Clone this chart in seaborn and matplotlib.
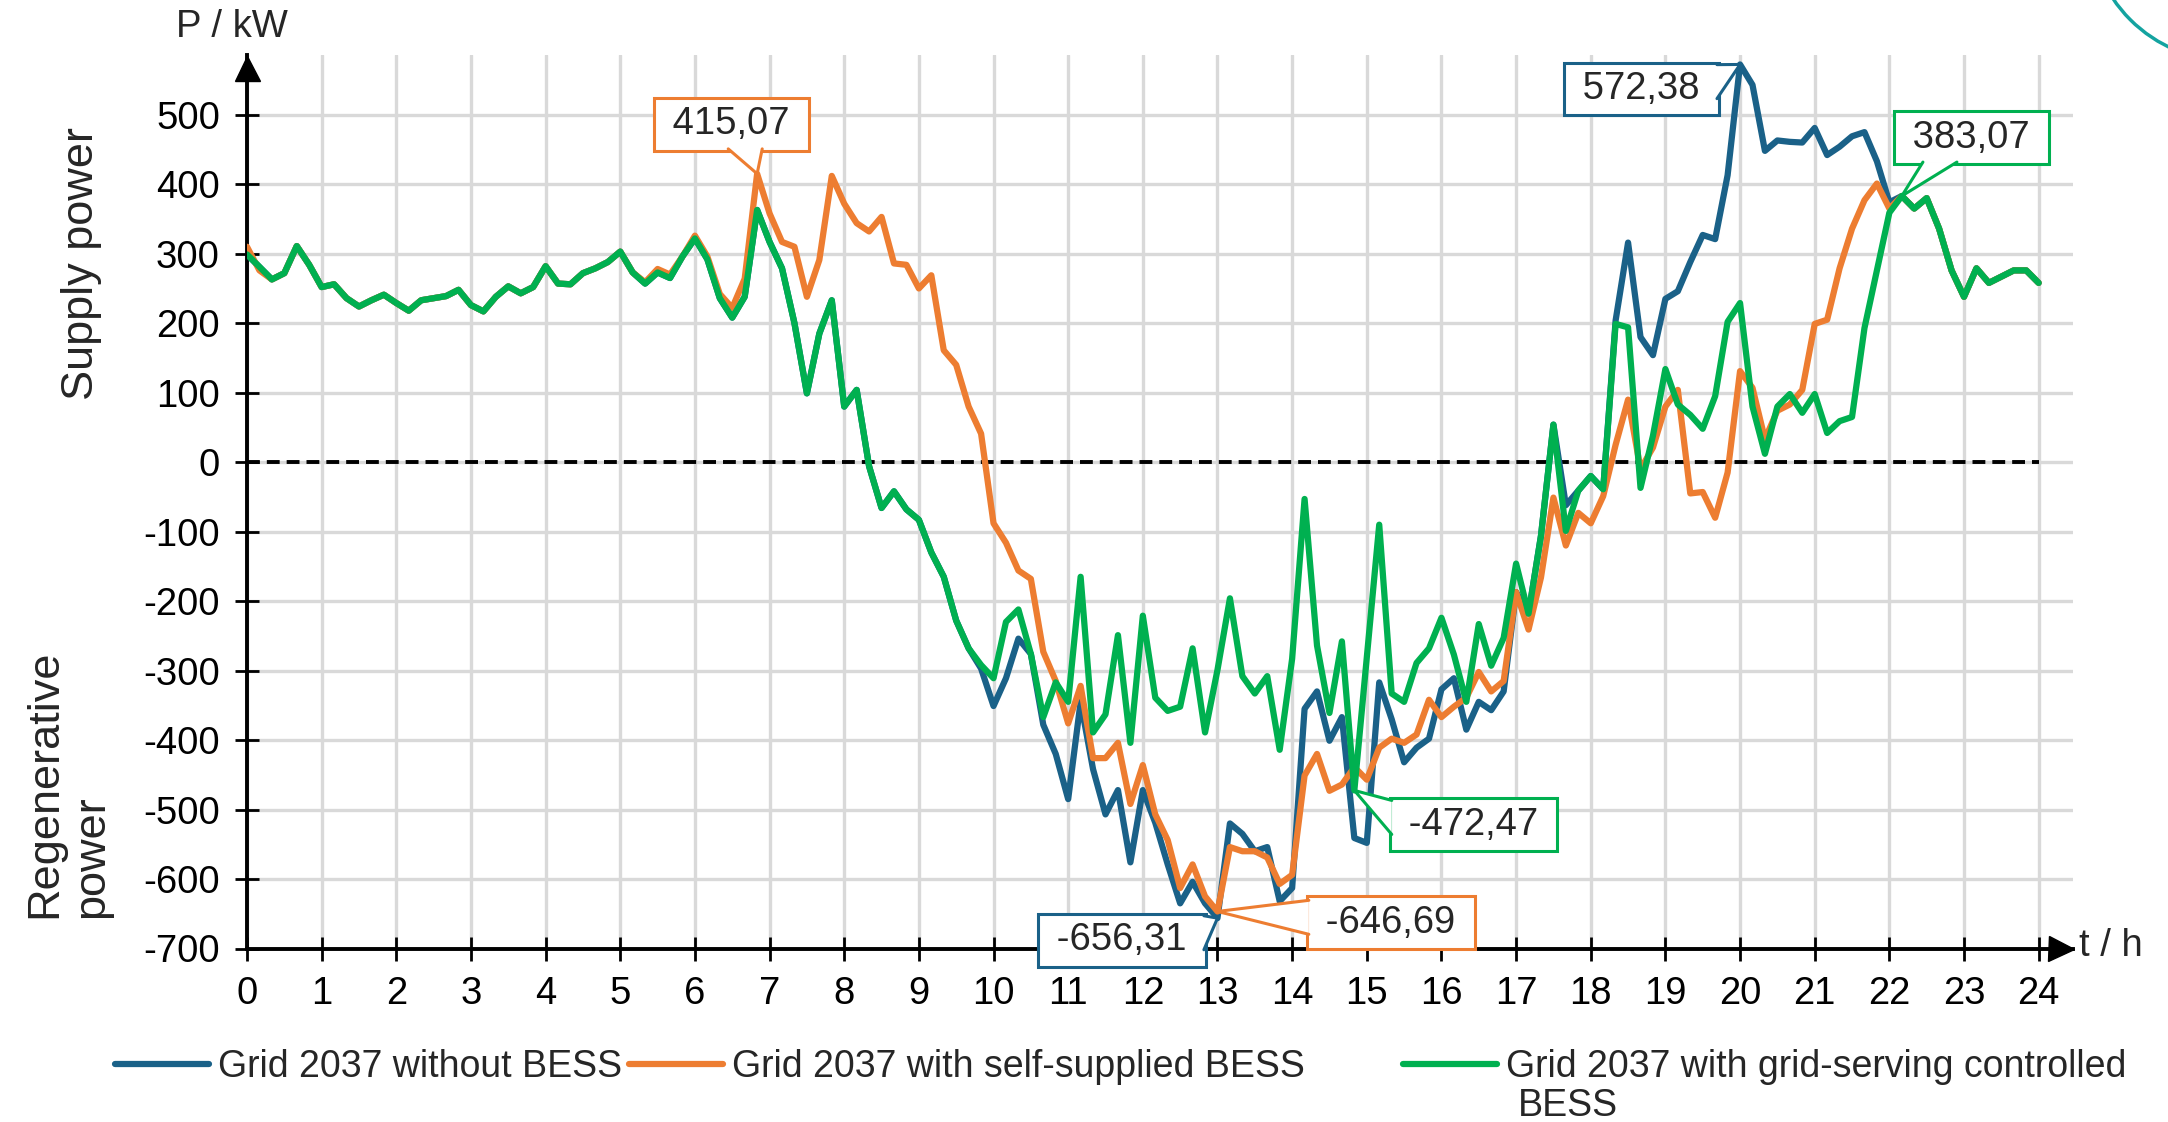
import numpy as np
import pandas as pd
import matplotlib
matplotlib.use('Agg')
import matplotlib.pyplot as plt
from matplotlib.lines import Line2D
from matplotlib.patches import Ellipse, Polygon
from matplotlib.transforms import IdentityTransform
import seaborn as sns

# 10-minute values over one day (0:00 ... 24:00), P in kW
hours = np.linspace(0, 24, 145)

without_bess = [
    299, 281, 263, 272, 311, 284, 252, 256, 236, 224, 233, 241,
    229, 218, 233, 236, 239, 248, 226, 217, 238, 253, 243, 252,
    282, 257, 256, 272, 279, 288, 303, 273, 257, 273, 265, 296,
    322, 292, 236, 208, 238, 363, 317, 279, 200, 99, 185, 233,
    80, 104, -6, -66, -42, -68, -83, -130, -165, -228, -268, -297,
    -351, -311, -254, -276, -378, -420, -485, -345, -442, -507, -472, -576,
    -472, -519, -579, -635, -604, -635, -656.31, -520, -535, -560, -554, -632,
    -613, -355, -330, -401, -367, -541, -548, -317, -370, -432, -411, -398,
    -327, -311, -385, -345, -357, -330, -187, -218, -106, 54, -62, -41,
    -20, -39, 204, 316, 180, 154, 235, 246, 288, 327, 321, 413,
    572.38, 543, 448, 463, 461, 460, 481, 442, 454, 469, 475, 433,
    374, 383.07, 365, 380, 336, 276, 238, 279, 258, 267, 276, 276,
    258]

self_supplied = [
    310, 276, 263, 272, 311, 284, 252, 256, 236, 224, 233, 241,
    229, 218, 233, 236, 239, 248, 226, 217, 238, 253, 243, 252,
    282, 257, 256, 272, 279, 288, 303, 273, 259, 278, 270, 296,
    326, 296, 242, 222, 264, 415.07, 358, 317, 310, 238, 291, 412,
    372, 344, 332, 353, 286, 284, 250, 269, 161, 140, 80, 41,
    -88, -116, -156, -168, -273, -315, -376, -322, -426, -426, -404, -492,
    -436, -507, -544, -613, -579, -625, -646.69, -554, -560, -560, -569, -607,
    -594, -451, -420, -473, -464, -439, -457, -411, -398, -404, -392, -342,
    -367, -352, -339, -302, -330, -315, -187, -241, -166, -51, -120, -73,
    -88, -49, 25, 90, -10, 21, 80, 104, -45, -43, -80, -15,
    131, 107, 33, 74, 83, 104, 199, 205, 279, 336, 377, 401,
    365, 383.07, 365, 380, 336, 276, 238, 279, 258, 267, 276, 276,
    258]

grid_serving = [
    299, 281, 263, 272, 311, 284, 252, 256, 236, 224, 233, 241,
    229, 218, 233, 236, 239, 248, 226, 217, 238, 253, 243, 252,
    282, 257, 256, 272, 279, 288, 303, 273, 257, 273, 265, 296,
    322, 292, 236, 208, 238, 363, 317, 279, 200, 99, 185, 233,
    80, 104, -6, -66, -42, -68, -83, -130, -165, -228, -268, -292,
    -311, -230, -212, -276, -367, -317, -345, -165, -389, -363, -249, -404,
    -221, -339, -358, -352, -268, -389, -299, -196, -308, -333, -308, -414,
    -283, -53, -264, -361, -258, -472.47, -281, -90, -333, -345, -289, -268,
    -224, -277, -345, -233, -293, -253, -146, -218, -106, 54, -99, -41,
    -20, -39, 199, 194, -37, 38, 134, 83, 68, 48, 95, 202,
    229, 80, 12, 80, 98, 71, 98, 42, 59, 65, 193, 276,
    359, 383.07, 365, 380, 336, 276, 238, 279, 258, 267, 276, 276,
    258]

labels = ['Grid 2037 without BESS', 'Grid 2037 with self-supplied BESS',
          'Grid 2037 with grid-serving controlled BESS']
colors = ['#1a6188', '#ed7d31', '#00b050']
y_ticks = list(range(-700, 501, 100))
x_ticks = list(range(0, 25))

df = pd.DataFrame({
    't': np.tile(hours, 3),
    'P': np.concatenate([without_bess, self_supplied, grid_serving]),
    'series': np.repeat(labels, len(hours)),
})

sns.set_theme(style='white')
plt.rcParams['font.family'] = ['Liberation Sans', 'DejaVu Sans']
plt.rcParams['axes.unicode_minus'] = False
FS = 27.5

fig = plt.figure(figsize=(21.68, 11.22), dpi=100)
ax = fig.add_axes([247 / 2168, 1 - 948.5 / 1122, (2073 - 247) / 2168, (948.5 - 55) / 1122])

sns.lineplot(data=df, x='t', y='P', hue='series', palette=dict(zip(labels, colors)),
             linewidth=4.5, estimator=None, sort=False, legend=False, ax=ax, zorder=3)

ax.hlines(0, 0, 24, colors='black', linestyles=(0, (3.3, 1.8)), linewidth=2.8, zorder=2)

ax.set_xlim(0, 24.46)
ax.set_ylim(-700, 586)
ax.set_xticks(x_ticks)
ax.set_yticks(y_ticks)
ax.set_xlabel('')
ax.set_ylabel('')
ax.set_axisbelow(True)
ax.grid(True, color='#d9d9d9', linewidth=2.4)
for s in ['top', 'right']:
    ax.spines[s].set_visible(False)
for s in ['left', 'bottom']:
    ax.spines[s].set_linewidth(2.8)
    ax.spines[s].set_color('black')
ax.tick_params(direction='inout', length=17, width=2, labelsize=FS, pad=11,
               colors='black', left=True, bottom=True)

# axis arrows
ax.plot([1 - 12.5 / 1826], [0], marker='>', ms=18, color='black',
        transform=ax.transAxes, clip_on=False)
ax.plot([0], [1 - 12.5 / 893.5], marker='^', ms=18, color='black',
        transform=ax.transAxes, clip_on=False)

fig.text(232 / 2168, 1 - 27 / 1122, 'P / kW', ha='center', va='center', fontsize=FS)
fig.text(2079 / 2168, 1 - 946 / 1122, 't / h', ha='left', va='center', fontsize=FS)
fig.text(81 / 2168, 1 - 263 / 1122, 'Supply power', rotation=90, ha='center', va='center',
         fontsize=32.5)
fig.text(68 / 2168, 1 - 918 / 1122, 'Regenerative\npower', rotation=90, ha='center',
         va='bottom', multialignment='left', fontsize=32.5)


def fmt(v):
    return ' ' + f'{v:.2f}'.replace('.', ',') + ' '


callouts = []


def callout(series, idx, color, pos):
    t = ax.text(pos[0], pos[1], fmt(series[idx]), ha='center', va='center', fontsize=FS,
                zorder=5,
                bbox=dict(boxstyle='square,pad=0.22', fc='white', ec=color, lw=2.2))
    callouts.append((t, (hours[idx], series[idx]), color))


callout(self_supplied, int(np.argmax(self_supplied)), colors[1], (6.49, 486))
callout(without_bess, int(np.argmax(without_bess)), colors[0], (18.68, 537))
callout(grid_serving, int(np.argmax(grid_serving)), colors[2], (23.1, 467))
callout(grid_serving, int(np.argmin(grid_serving)), colors[2], (16.43, -522))
callout(without_bess, int(np.argmin(without_bess)), colors[0], (11.72, -688))
callout(self_supplied, int(np.argmin(self_supplied)), colors[1], (15.32, -663))

# legend, laid out as in the original slide
legend_text = ['Grid 2037 without BESS', 'Grid 2037 with self-supplied BESS',
               'Grid 2037 with grid-serving controlled']
legend_x = [115 / 2168, 629 / 2168, 1403 / 2168]
for lab, col, lx in zip(legend_text, colors, legend_x):
    h = Line2D([], [], color=col, lw=4.5)
    fig.legend([h], [lab], loc='center left', bbox_to_anchor=(lx, 1 - 1067 / 1122),
               frameon=False, fontsize=27, handlelength=2.5, handletextpad=0.25,
               borderpad=0, borderaxespad=0)
fig.text(1518 / 2168, 1 - 1106 / 1122, 'BESS', ha='left', va='center', fontsize=27)

# corner of the logo
fig.add_artist(Ellipse((2230 / 2168, 1 + 80 / 1122), 282 / 2168, 282 / 1122,
                       transform=fig.transFigure, fill=False, ec='#14a3a0', lw=2.5))

# callout tails: a wedge from the box edge to the labelled point (pixel coords)
fig.canvas.draw()
half = 17
for txt, xy, color in callouts:
    bb = txt.get_bbox_patch().get_window_extent()
    px, py = ax.transData.transform(xy)
    cx, cy = (bb.x0 + bb.x1) / 2, (bb.y0 + bb.y1) / 2
    dx, dy = px - cx, py - cy
    sx = (bb.width / 2) / abs(dx) if dx else np.inf
    sy = (bb.height / 2) / abs(dy) if dy else np.inf
    s = min(sx, sy)
    ex, ey = cx + dx * s, cy + dy * s
    if sx < sy:
        ex -= np.sign(dx) * 2
        ey = np.clip(ey, bb.y0 + half + 2, bb.y1 - half - 2)
        b1, b2 = (ex, ey - half), (ex, ey + half)
    else:
        ey -= np.sign(dy) * 2
        ex = np.clip(ex, bb.x0 + half + 2, bb.x1 - half - 2)
        b1, b2 = (ex - half, ey), (ex + half, ey)
    fig.add_artist(Polygon([b1, (px, py), b2], closed=True, fc='white', ec='none',
                           transform=IdentityTransform(), zorder=6))
    fig.add_artist(Line2D([b1[0], px, b2[0]], [b1[1], py, b2[1]], color=color, lw=2.2,
                          transform=IdentityTransform(), zorder=6.1))

fig.savefig('out.png', dpi=100)
